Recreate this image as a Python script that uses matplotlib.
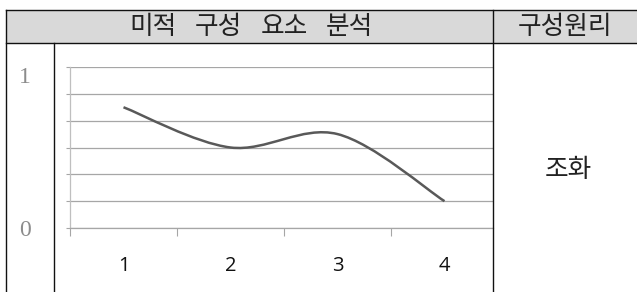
import matplotlib
matplotlib.use("Agg")
import matplotlib.pyplot as plt
from matplotlib.path import Path
from matplotlib.patches import PathPatch, Rectangle
from matplotlib.lines import Line2D
import numpy as np

# ---- data ----
categories = [1, 2, 3, 4]
values = [0.9, 0.6, 0.7, 0.2]
tick_labels = ["1", "2", "3", "4"]
header_words = ["미적", "구성", "요소", "분석"]
header_right = "구성원리"
principle = "조화"
side_labels = ["1", "0"]

W, H = 637, 292
fig = plt.figure(figsize=(W / 100, H / 100), dpi=100)
fig.patch.set_facecolor("white")

def fx(x):
    return x / W

def fy(y):
    return 1 - y / H

KFONT = ["Noto Sans CJK KR", "DejaVu Sans"]

# ---- table frame ----
fig.patches.append(Rectangle((fx(6), fy(43)), fx(637) - fx(6), fy(10) - fy(43),
                             transform=fig.transFigure, facecolor="#d9d9d9",
                             edgecolor="none", zorder=0))
lw = 1.0
line_kw = dict(transform=fig.transFigure, color="#111111", linewidth=lw, zorder=5)
fig.lines.append(Line2D([fx(6), fx(637)], [fy(10), fy(10)], **line_kw))
fig.lines.append(Line2D([fx(6), fx(637)], [fy(43), fy(43)], **line_kw))
fig.lines.append(Line2D([fx(6), fx(6)], [fy(10), fy(292)], **line_kw))
fig.lines.append(Line2D([fx(493), fx(493)], [fy(10), fy(292)], **line_kw))
fig.lines.append(Line2D([fx(54), fx(54)], [fy(43), fy(292)], **line_kw))

# header texts
word_x = [153, 218, 284, 349]
for w, x in zip(header_words, word_x):
    fig.text(fx(x), fy(27), w, ha="center", va="center", fontsize=18.5,
             family=KFONT, color="#222222")
fig.text(fx(565), fy(27), header_right, ha="center", va="center", fontsize=18.5,
         family=KFONT, color="#222222")
fig.text(fx(568), fy(170), principle, ha="center", va="center", fontsize=18.5,
         family=KFONT, color="#222222")

# side labels (typed in the cell)
fig.text(fx(25), fy(77), side_labels[0], ha="center", va="center", fontsize=17,
         family=["Liberation Serif"], color="#8c8c8c")
fig.text(fx(25), fy(231), side_labels[1], ha="center", va="center", fontsize=17,
         family=["Liberation Serif"], color="#8c8c8c")

# ---- chart ----
ax = fig.add_axes([fx(70), fy(228), fx(493) - fx(70), fy(67) - fy(228)])
ax.set_facecolor("none")
step = 107.0
ax.set_xlim(0.5, 0.5 + 423 / step)
ax.set_ylim(0, 1.2)

ax.set_yticks(np.arange(0, 1.21, 0.2))
ax.set_yticklabels([])
ax.tick_params(axis="y", length=3, width=0.8, color="#a6a6a6", direction="out")
ax.yaxis.grid(True, color="#a6a6a6", linewidth=0.9)
ax.set_axisbelow(True)

ax.set_xticks(categories)
ax.set_xticklabels(tick_labels, fontsize=14.5, family=["Open Sans"], color="#111111")
ax.set_xticks([c - 0.5 for c in categories], minor=True)
ax.tick_params(axis="x", which="major", length=0, pad=20)
ax.tick_params(axis="x", which="minor", length=6, width=0.8, color="#a6a6a6",
               direction="out")

for s in ["top", "right"]:
    ax.spines[s].set_visible(False)
ax.spines["left"].set_color("#bfbfbf")
ax.spines["left"].set_linewidth(0.9)
ax.spines["bottom"].set_color("#a6a6a6")
ax.spines["bottom"].set_linewidth(0.9)

# smoothed line (Catmull-Rom -> cubic Bezier, drawn in data coordinates)
pts = np.column_stack([categories, values]).astype(float)
n = len(pts)
verts = [tuple(pts[0])]
codes = [Path.MOVETO]
for i in range(n - 1):
    p0 = pts[i - 1] if i > 0 else pts[i]
    p1 = pts[i]
    p2 = pts[i + 1]
    p3 = pts[i + 2] if i + 2 < n else pts[i + 1]
    c1 = p1 + (p2 - p0) / 6.0
    c2 = p2 - (p3 - p1) / 6.0
    verts += [tuple(c1), tuple(c2), tuple(p2)]
    codes += [Path.CURVE4] * 3
ax.add_patch(PathPatch(Path(verts, codes), facecolor="none", edgecolor="#595959",
                       linewidth=1.8, capstyle="butt", zorder=3))

fig.savefig("out.png", dpi=100, facecolor="white")
